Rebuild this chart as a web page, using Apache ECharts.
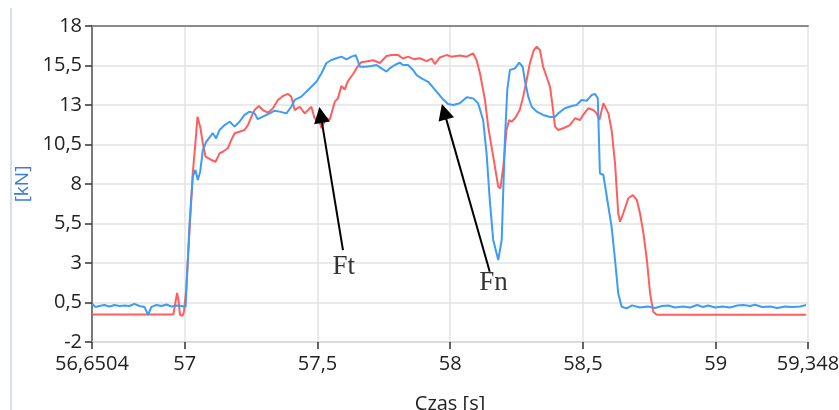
<!DOCTYPE html>
<html>
<head>
<meta charset="utf-8">
<script src="https://cdn.jsdelivr.net/npm/echarts@6/dist/echarts.min.js"></script>
<style>
  html, body { margin: 0; padding: 0; background: #fff; }
  #chart { width: 839px; height: 410px; }
</style>
</head>
<body>
<div id="chart"></div>
<script>
// tick positions on the time axis [s]
const xTicks = [56.6504, 57, 57.5, 58, 58.5, 59, 59.348];

// Fn (blue) - time [s] and force [kN]
const fnTime = [
  56.652, 56.663, 56.678, 56.697, 56.716, 56.735, 56.754, 56.773, 56.791, 56.810,
  56.829, 56.848, 56.862, 56.874, 56.893, 56.912, 56.931, 56.950, 56.969, 56.988, 57.003,
  57.018, 57.030, 57.040, 57.049, 57.058, 57.068, 57.081, 57.100, 57.105, 57.118,
  57.131, 57.150, 57.169, 57.188, 57.206, 57.225, 57.244, 57.263, 57.275, 57.294,
  57.320, 57.338, 57.357, 57.383, 57.401, 57.414, 57.439, 57.458, 57.477, 57.496,
  57.515, 57.533, 57.552, 57.571, 57.590, 57.609, 57.628, 57.644, 57.653, 57.659,
  57.678, 57.703, 57.722, 57.741, 57.760, 57.772, 57.791, 57.810, 57.822, 57.841,
  57.860, 57.873, 57.892, 57.917, 57.935, 57.954, 57.973, 57.992, 58.011, 58.036,
  58.062, 58.086, 58.105, 58.124, 58.137, 58.149, 58.162, 58.181, 58.194, 58.200,
  58.206, 58.215, 58.225, 58.244, 58.260, 58.273, 58.281, 58.294, 58.307, 58.326,
  58.350, 58.376, 58.395, 58.407, 58.432, 58.458, 58.476, 58.495, 58.514, 58.533,
  58.545, 58.556, 58.564, 58.577, 58.596, 58.608, 58.621, 58.633, 58.646, 58.665,
  58.685, 58.715, 58.745, 58.772, 58.798, 58.821, 58.847, 58.877, 58.904, 58.930,
  58.953, 58.972, 58.998, 59.025, 59.055, 59.081, 59.104, 59.130, 59.149, 59.175,
  59.206, 59.232, 59.262, 59.289, 59.319, 59.341
];
const fnForce = [
  0.41, 0.22, 0.28, 0.34, 0.25, 0.34, 0.28, 0.31, 0.28, 0.41,
  0.28, 0.22, -0.29, 0.22, 0.34, 0.28, 0.37, 0.25, 0.31, 0.28, 0.22,
  5.53, 8.46, 8.89, 8.25, 8.78, 10.15, 10.68, 11.10, 11.23, 10.89,
  11.42, 11.73, 11.94, 11.63, 11.94, 12.37, 12.58, 12.47, 12.10, 12.26,
  12.47, 12.64, 12.58, 12.47, 12.89, 13.32, 13.53, 13.84, 14.16, 14.47,
  15.01, 15.64, 15.85, 15.96, 16.06, 15.89, 16.06, 16.16, 15.74, 15.42,
  15.42, 15.47, 15.53, 15.32, 15.11, 15.32, 15.53, 15.68, 15.53, 15.53,
  15.22, 14.90, 14.69, 14.47, 14.12, 13.74, 13.36, 13.06, 13.00, 13.11,
  13.49, 13.42, 13.11, 12.05, 9.94, 6.99, 4.46, 3.19, 4.46, 7.62,
  10.78, 13.95, 15.22, 15.32, 15.68, 15.42, 14.58, 13.53, 12.89, 12.58,
  12.37, 12.24, 12.26, 12.47, 12.79, 12.94, 13.00, 13.32, 13.27, 13.63,
  13.70, 13.44, 8.68, 8.57, 6.56, 5.30, 3.19, 1.08, 0.23, 0.13,
  0.32, 0.18, 0.25, 0.15, 0.28, 0.31, 0.18, 0.25, 0.18, 0.34,
  0.22, 0.31, 0.18, 0.25, 0.18, 0.31, 0.34, 0.28, 0.36, 0.22,
  0.25, 0.15, 0.25, 0.22, 0.25, 0.34
];

// Ft (red)
const ftTime = [
  56.652, 56.716, 56.791, 56.867, 56.957, 56.963, 56.971, 56.976, 56.982, 56.991,
  56.997, 57.005, 57.018, 57.030, 57.040, 57.048, 57.058, 57.068, 57.078, 57.100,
  57.116, 57.131, 57.143, 57.162, 57.175, 57.188, 57.206, 57.225, 57.238, 57.251,
  57.263, 57.279, 57.294, 57.313, 57.332, 57.351, 57.370, 57.389, 57.401, 57.414,
  57.433, 57.452, 57.477, 57.489, 57.508, 57.515, 57.533, 57.546, 57.565, 57.577,
  57.590, 57.602, 57.615, 57.634, 57.653, 57.665, 57.678, 57.709, 57.735, 57.760,
  57.779, 57.804, 57.822, 57.841, 57.866, 57.885, 57.911, 57.930, 57.942, 57.961,
  57.986, 58.005, 58.036, 58.062, 58.086, 58.099, 58.112, 58.131, 58.143, 58.162,
  58.181, 58.189, 58.200, 58.212, 58.222, 58.231, 58.244, 58.262, 58.275, 58.288,
  58.300, 58.315, 58.326, 58.338, 58.350, 58.363, 58.376, 58.386, 58.395, 58.407,
  58.426, 58.451, 58.470, 58.489, 58.501, 58.520, 58.539, 58.552, 58.562, 58.577,
  58.596, 58.608, 58.621, 58.633, 58.640, 58.652, 58.671, 58.688, 58.703, 58.715,
  58.728, 58.741, 58.753, 58.765, 58.778, 59.341
];
const ftForce = [
  -0.26, -0.26, -0.26, -0.26, -0.26, 0.34, 1.10, 0.66, -0.29, -0.34,
  -0.10, 1.29, 5.09, 8.68, 10.60, 12.26, 11.63, 10.58, 9.73, 9.52,
  9.41, 9.94, 10.04, 10.26, 10.78, 11.21, 11.31, 11.42, 11.73, 12.26,
  12.68, 12.94, 12.68, 12.51, 12.79, 13.32, 13.57, 13.70, 13.53, 12.68,
  12.89, 12.47, 12.89, 12.16, 11.94, 11.53, 12.18, 12.05, 13.21, 13.42,
  14.20, 13.98, 14.52, 14.96, 15.48, 15.71, 15.74, 15.83, 15.66, 16.10,
  16.16, 16.16, 15.94, 16.06, 15.89, 15.96, 15.78, 15.94, 15.59, 16.01,
  16.16, 16.06, 16.13, 16.06, 16.27, 15.85, 15.01, 13.32, 11.63, 9.73,
  7.83, 7.72, 9.10, 11.42, 12.05, 11.94, 12.16, 12.68, 13.53, 14.58,
  15.64, 16.48, 16.69, 16.48, 15.42, 14.79, 14.16, 12.89, 11.63, 11.42,
  11.53, 11.73, 12.16, 12.05, 12.37, 12.79, 12.68, 12.47, 12.05, 13.11,
  12.47, 11.42, 9.31, 6.15, 5.61, 6.15, 7.10, 7.30, 6.99, 6.15,
  4.88, 3.19, 1.08, -0.08, -0.27, -0.27
];

// annotation arrows: [from, to] in [s, kN]
const arrowFt = [[57.596, 3.82], [57.512, 12.37]];
const arrowFn = [[58.149, 2.45], [57.977, 12.58]];
const arrowLabels = [
  { name: 'Ft', value: [57.599, 2.78] },
  { name: 'Fn', value: [58.163, 1.73] }
];

const zip = (a, b) => a.map((t, i) => [t, b[i]]);
const fmt = (v) => String(v).replace('.', ',');

const chart = echarts.init(document.getElementById('chart'));

const option = {
  animation: false,
  backgroundColor: '#fff',
  // the axis title is cut at the bottom edge in the original, so don't let it shrink the grid
  grid: { left: 92, right: 31, top: 26, bottom: 68, outerBoundsMode: 'none' },
  graphic: [
    {
      type: 'line',
      shape: { x1: 11, y1: 8, x2: 11, y2: 410 },
      style: { stroke: '#c9d5ec', lineWidth: 1.5 },
      silent: true
    }
  ],
  xAxis: [
    {
      type: 'value',
      min: 56.6504,
      max: 59.348,
      name: 'Czas [s]',
      nameLocation: 'middle',
      nameGap: 52,
      nameTextStyle: { color: '#222', fontSize: 20, fontFamily: 'Open Sans' },
      axisLine: { onZero: false, lineStyle: { color: '#d6d6d6', width: 1.5 } },
      axisTick: { customValues: xTicks, length: 7, lineStyle: { color: '#333', width: 1.5 } },
      axisLabel: {
        customValues: xTicks,
        formatter: fmt,
        margin: 12,
        color: '#222',
        fontSize: 20,
        fontFamily: 'Open Sans',
        showMinLabel: true,
        showMaxLabel: true
      },
      splitLine: { show: true, lineStyle: { color: '#e3e3e3', width: 1.5 } }
    },
    {
      type: 'value',
      position: 'top',
      min: 56.6504,
      max: 59.348,
      axisLine: { show: true, onZero: false, lineStyle: { color: '#8a8a8a', width: 2 } },
      axisTick: { show: false },
      axisLabel: { show: false },
      splitLine: { show: false }
    }
  ],
  yAxis: {
    type: 'value',
    min: -2,
    max: 18,
    interval: 2.5,
    name: '[kN]',
    nameLocation: 'middle',
    nameGap: 58,
    nameTextStyle: { color: '#3b7be0', fontSize: 19, fontFamily: 'Open Sans' },
    axisLine: { show: true, onZero: false, lineStyle: { color: '#555', width: 1.5 } },
    axisTick: { show: true, length: 7, lineStyle: { color: '#333', width: 1.5 } },
    axisLabel: { formatter: fmt, margin: 10, color: '#222', fontSize: 20, fontFamily: 'Open Sans' },
    splitLine: { show: true, lineStyle: { color: '#e3e3e3', width: 1.5 } }
  },
  series: [
    {
      name: 'Ft',
      type: 'line',
      data: zip(ftTime, ftForce),
      showSymbol: false,
      lineStyle: { color: '#ff5e5e', width: 2 },
      itemStyle: { color: '#ff5e5e' },
      z: 3
    },
    {
      name: 'Fn',
      type: 'line',
      data: zip(fnTime, fnForce),
      showSymbol: false,
      lineStyle: { color: '#3d9cf5', width: 2 },
      itemStyle: { color: '#3d9cf5' },
      z: 4,
      markLine: {
        silent: true,
        symbol: ['none', 'triangle'],
        symbolSize: 16,
        lineStyle: { color: '#000', width: 2, type: 'solid' },
        itemStyle: { color: '#000' },
        label: { show: false },
        emphasis: { disabled: true },
        data: [
          [{ coord: arrowFt[0] }, { coord: arrowFt[1] }],
          [{ coord: arrowFn[0] }, { coord: arrowFn[1] }]
        ]
      }
    },
    {
      type: 'scatter',
      data: arrowLabels,
      symbolSize: 0,
      silent: true,
      z: 5,
      label: {
        show: true,
        position: 'inside',
        formatter: '{b}',
        color: '#000',
        fontSize: 27,
        fontFamily: 'Liberation Serif'
      }
    }
  ]
};

chart.setOption(option);
</script>
</body>
</html>
